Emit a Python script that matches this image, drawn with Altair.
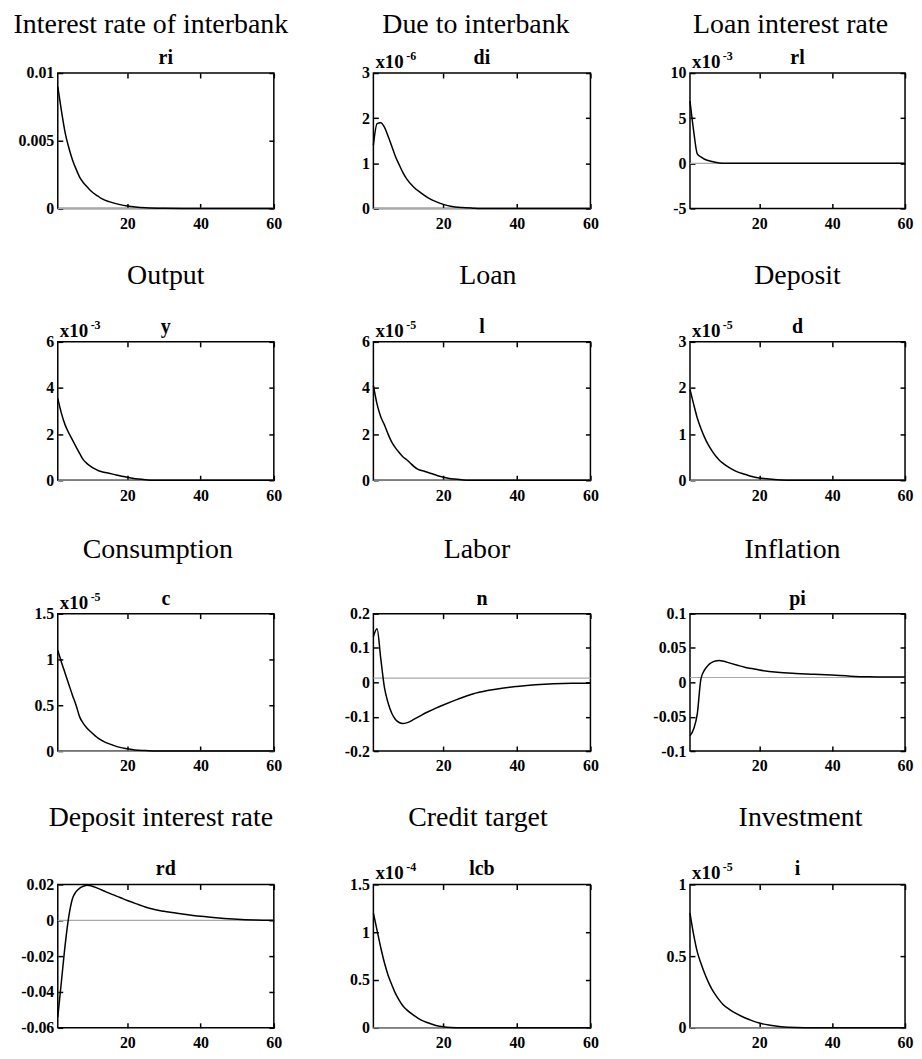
import altair as alt
import pandas as pd

FONT = "Liberation Serif"

# ---------------- panel texts ----------------
TITLES = ["Interest rate of interbank", "Due to interbank", "Loan interest rate",
          "Output", "Loan", "Deposit",
          "Consumption", "Labor", "Inflation",
          "Deposit interest rate", "Credit target", "Investment"]
NAMES = ["ri", "di", "rl", "y", "l", "d", "c", "n", "pi", "rd", "lcb", "i"]
EXPONENTS = ["", "-6", "-3", "-3", "-5", "-5", "-5", "", "", "", "-4", "-5"]

# ---------------- axes values ----------------
Y_DOMAINS = [[0, 0.01], [0, 3], [-5, 10], [0, 6], [0, 6], [0, 3], [0, 1.5],
             [-0.2, 0.2], [-0.1, 0.1], [-0.06, 0.02], [0, 1.5], [0, 1]]
Y_TICKS = [[0, 0.005, 0.01], [0, 1, 2, 3], [-5, 0, 5, 10], [0, 2, 4, 6], [0, 2, 4, 6],
           [0, 1, 2, 3], [0, 0.5, 1, 1.5], [-0.2, -0.1, 0, 0.1, 0.2],
           [-0.1, -0.05, 0, 0.05, 0.1], [-0.06, -0.04, -0.02, 0, 0.02],
           [0, 0.5, 1, 1.5], [0, 0.5, 1]]
ZERO_LINE = [0, 0, 0, 0, 0, 0, 0, 0.012, 0.007, 0, 0, 0]
X_DOMAIN = [1, 60]
X_TICKS = [20, 40, 60]

# ---------------- series (displayed units) ----------------
ri_t = [1, 2, 3, 4, 5, 6, 7, 8, 9, 10, 12, 13, 15, 18, 20, 25, 30, 35, 60]
ri_v = [0.009, 0.0072, 0.0056, 0.0045, 0.0036, 0.0029, 0.0023, 0.0019, 0.0016, 0.0013,
        0.0009, 0.00072, 0.0005, 0.00028, 0.00018, 0.00005, 0.00001, 0, 0]

di_t = [1, 2, 3, 4, 5, 6, 7, 8, 9, 10, 12, 14, 16, 18, 20, 22, 25, 28, 30, 60]
di_v = [1.4, 1.88, 1.9, 1.8, 1.6, 1.38, 1.15, 0.97, 0.8, 0.66, 0.47, 0.34, 0.23, 0.15,
        0.09, 0.05, 0.02, 0.006, 0, 0]

rl_t = [1, 2, 3, 4, 5, 6, 7, 8, 9, 11, 14, 60]
rl_v = [6.9, 3.6, 1.05, 0.7, 0.45, 0.3, 0.19, 0.11, 0.04, 0.01, 0, 0]

y_t = [1, 2, 3, 4, 5, 6, 7, 8, 9, 10, 11, 12, 13, 15, 17, 19, 21, 23, 25, 27, 60]
y_v = [3.55, 2.9, 2.4, 2.05, 1.75, 1.45, 1.15, 0.88, 0.72, 0.6, 0.5, 0.42, 0.37, 0.3,
       0.23, 0.16, 0.1, 0.05, 0.02, 0, 0]

l_t = [1, 2, 3, 4, 5, 6, 7, 8, 9, 10, 11, 12, 13, 15, 17, 19, 21, 23, 25, 27, 60]
l_v = [4.1, 3.3, 2.75, 2.4, 2.0, 1.65, 1.4, 1.2, 1.02, 0.9, 0.75, 0.6, 0.48, 0.38,
       0.28, 0.17, 0.1, 0.05, 0.02, 0, 0]

d_t = [1, 2, 3, 4, 5, 6, 7, 8, 9, 10, 12, 14, 16, 18, 20, 22, 25, 28, 60]
d_v = [1.97, 1.65, 1.35, 1.12, 0.93, 0.77, 0.64, 0.53, 0.44, 0.37, 0.26, 0.18, 0.13,
       0.08, 0.05, 0.03, 0.01, 0, 0]

c_t = [1, 2, 3, 4, 5, 6, 7, 8, 9, 10, 12, 14, 16, 18, 20, 22, 25, 28, 60]
c_v = [1.1, 0.97, 0.85, 0.73, 0.61, 0.5, 0.37, 0.3, 0.25, 0.21, 0.14, 0.095, 0.065,
       0.04, 0.025, 0.012, 0.005, 0, 0]

n_t = [1, 2, 3, 4, 5, 6, 7, 8, 9, 10, 12, 14, 16, 18, 20, 24, 28, 32, 36, 40, 45, 50, 55, 60]
n_v = [0.133, 0.156, 0.07, -0.015, -0.06, -0.09, -0.108, -0.117, -0.12, -0.118, -0.108,
       -0.096, -0.085, -0.075, -0.066, -0.049, -0.034, -0.024, -0.017, -0.012, -0.007,
       -0.004, -0.003, -0.003]

pi_t = [1, 2, 3, 4, 5, 6, 7, 8, 9, 10, 12, 14, 16, 18, 20, 25, 30, 35, 40, 45, 50, 55, 60]
pi_v = [-0.078, -0.068, -0.046, 0.005, 0.018, 0.025, 0.029, 0.031, 0.0317, 0.031, 0.028,
        0.025, 0.022, 0.02, 0.018, 0.0147, 0.013, 0.0118, 0.0105, 0.009, 0.008, 0.0076,
        0.0076]

rd_t = [1, 2, 3, 4, 5, 6, 7, 8, 9, 10, 12, 14, 16, 18, 20, 23, 26, 30, 35, 40, 45, 50, 55, 60]
rd_v = [-0.054, -0.034, -0.014, 0.002, 0.012, 0.016, 0.018, 0.019, 0.0195, 0.0193, 0.0178,
        0.016, 0.0143, 0.0127, 0.011, 0.0088, 0.0067, 0.005, 0.0035, 0.0022, 0.0013,
        0.0006, 0.0002, 0.0]

lcb_t = [1, 2, 3, 4, 5, 6, 7, 8, 9, 10, 12, 14, 16, 18, 20, 22, 25, 60]
lcb_v = [1.2, 1.02, 0.84, 0.68, 0.55, 0.45, 0.36, 0.29, 0.23, 0.19, 0.13, 0.08, 0.05,
         0.025, 0.01, 0.003, 0, 0]

i_t = [1, 2, 3, 4, 5, 6, 7, 8, 9, 10, 12, 14, 16, 18, 20, 23, 26, 30, 35, 60]
i_v = [0.8, 0.65, 0.53, 0.45, 0.38, 0.32, 0.27, 0.23, 0.195, 0.165, 0.125, 0.095, 0.07,
       0.05, 0.033, 0.018, 0.008, 0.002, 0, 0]

SERIES_T = [ri_t, di_t, rl_t, y_t, l_t, d_t, c_t, n_t, pi_t, rd_t, lcb_t, i_t]
SERIES_V = [ri_v, di_v, rl_v, y_v, l_v, d_v, c_v, n_v, pi_v, rd_v, lcb_v, i_v]

# ---------------- layout ----------------
COL_W = [217, 218, 216]
ROW_H = [136, 139, 138, 144]
TITLE_Y = [-40, -58, -56, -59]
TITLE_DX = [-15, -6, -7, 0, 6, 0, -8, -5, -5, -5, -4, 3]
TK = 5  # inward tick length

ONE = pd.DataFrame({"a": [0]})
LABEL_EXPR = ("datum.value < 0 ? '-' + format(-datum.value, '~g') "
              ": format(datum.value, '~g')")


def axis(orient, values, labels=True):
    kw = dict(orient=orient, values=values, offset=-TK, tickSize=TK, domain=False,
              grid=False, tickColor="black", tickWidth=1.5, labels=labels,
              labelFont=FONT, labelFontSize=16, labelFontWeight="bold",
              labelColor="black", labelOverlap=False, labelFlush=False,
              labelBound=False)
    if orient in ("left", "right"):
        kw["labelPadding"] = 4
        kw["labelExpr"] = LABEL_EXPR
    else:
        kw["labelPadding"] = 7
        kw["format"] = "d"
    return alt.Axis(**kw)


def text(txt, x, y, size, weight, align="center"):
    return alt.Chart(ONE).mark_text(
        text=txt, font=FONT, fontSize=size, fontWeight=weight, align=align,
        baseline="alphabetic", color="black"
    ).encode(x=alt.value(x), y=alt.value(y))


def panel(k):
    r, c = divmod(k, 3)
    w, h = COL_W[c], ROW_H[r]
    df = pd.DataFrame({"t": SERIES_T[k], "v": SERIES_V[k]})
    zl = pd.DataFrame({"t": X_DOMAIN, "v": [ZERO_LINE[k], ZERO_LINE[k]]})
    xs = alt.Scale(domain=X_DOMAIN, nice=False, zero=False)
    ys = alt.Scale(domain=Y_DOMAINS[k], nice=False, zero=False)

    zero = alt.Chart(zl).mark_line(color="#a8a8a8", strokeWidth=1.2).encode(
        x=alt.X("t:Q", scale=xs, axis=axis("top", X_TICKS, labels=False), title=None),
        y=alt.Y("v:Q", scale=ys, axis=axis("right", Y_TICKS[k], labels=False), title=None),
    )
    curve = alt.Chart(df).mark_line(color="black", strokeWidth=1.5,
                                    interpolate="monotone").encode(
        x=alt.X("t:Q", scale=xs, axis=axis("bottom", X_TICKS), title=None),
        y=alt.Y("v:Q", scale=ys, axis=axis("left", Y_TICKS[k]), title=None),
    )
    layers = [zero, curve,
              text(TITLES[k], w / 2 + TITLE_DX[k], TITLE_Y[r], 28, "normal"),
              text(NAMES[k], w / 2, -9, 20, "bold")]
    if EXPONENTS[k]:
        layers.append(text("x10", 2, -5, 19, "bold", "left"))
        layers.append(text(EXPONENTS[k], 33, -13, 12, "bold", "left"))
    return alt.layer(*layers).resolve_axis(x="independent", y="independent").properties(
        width=w, height=h)


chart = alt.concat(
    *[panel(k) for k in range(12)],
    columns=3,
    spacing={"row": 134, "column": 100},
    bounds="flush",
).properties(
    padding={"left": 4, "top": 0, "right": 0, "bottom": 0}
).configure_view(stroke="black", strokeWidth=1.5)

chart.save("out.html", embed_options={"renderer": "svg", "actions": False})
